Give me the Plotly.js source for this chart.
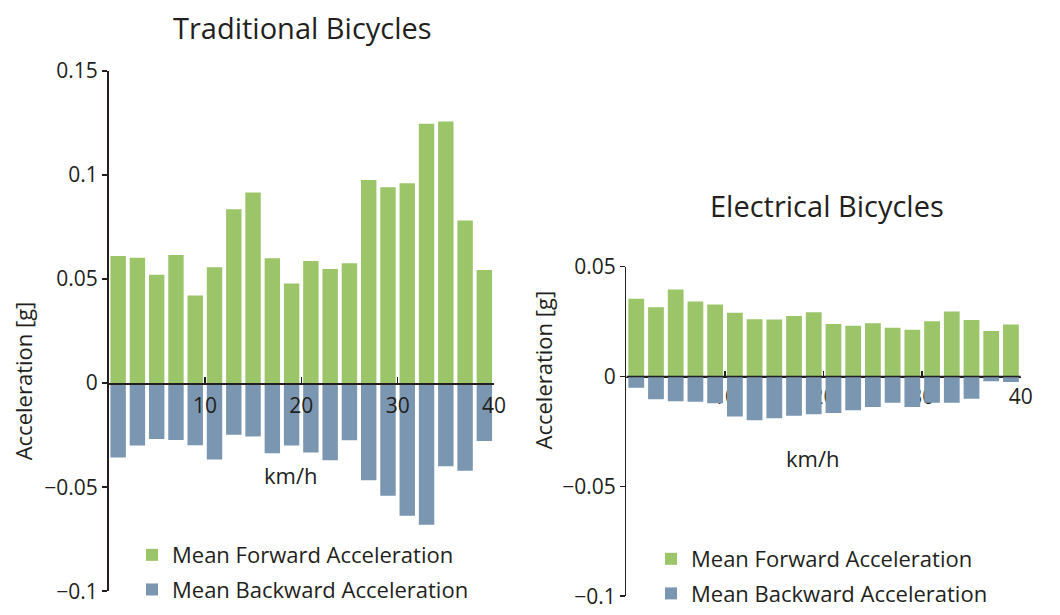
<!DOCTYPE html>
<html><head><meta charset="utf-8">
<script src="https://cdn.plot.ly/plotly-3.0.1.min.js"></script>
<style>html,body{margin:0;padding:0;background:#fff}</style>
</head><body>
<div id="chart" style="width:1060px;height:615px"></div>
<script>
// ---- data ----
const speedBins = [1,3,5,7,9,11,13,15,17,19,21,23,25,27,29,31,33,35,37,39];
const tradForward = [0.0611,0.0602,0.0521,0.0616,0.0421,0.0557,0.0835,0.0916,0.0600,0.0479,
                     0.0587,0.0548,0.0576,0.0976,0.0941,0.0960,0.1246,0.1257,0.0781,0.0544];
const tradBackward = [-0.0357,-0.0300,-0.0268,-0.0273,-0.0298,-0.0367,-0.0248,-0.0256,-0.0337,-0.0300,
                      -0.0333,-0.0371,-0.0275,-0.0467,-0.0541,-0.0637,-0.0681,-0.0400,-0.0421,-0.0278];
const elecForward = [0.0354,0.0316,0.0396,0.0342,0.0328,0.0290,0.0261,0.0260,0.0276,0.0293,
                     0.0239,0.0231,0.0243,0.0222,0.0213,0.0252,0.0296,0.0257,0.0207,0.0237];
const elecBackward = [-0.0051,-0.0103,-0.0112,-0.0115,-0.0122,-0.0182,-0.0199,-0.0190,-0.0179,-0.0172,
                      -0.0166,-0.0154,-0.0139,-0.0119,-0.0139,-0.0119,-0.0119,-0.0101,-0.0022,-0.0025];
const xTickVals = [10,20,30,40];
const seriesNames = ['Mean Forward Acceleration','Mean Backward Acceleration'];
const panelTitles = ['Traditional Bicycles','Electrical Bicycles'];
const yTitle = 'Acceleration [g]';
const xTitle = 'km/h';

// ---- layout helpers ----
const W = 1060, H = 615;
const px = v => v / W;
const py = v => 1 - v / H;
const GREEN = '#9cc56a', BLUE = '#7a96b0', INK = '#231f20';
const FONT = 'Open Sans, Noto Sans, sans-serif';

const yr1 = [-0.1, 0.15], yd1 = [py(600), py(72)];
const yr2 = [-0.1, 0.05], yd2 = [py(605), py(270.7)];
const zeroPos = (r, d) => d[0] + (0 - r[0]) / (r[1] - r[0]) * (d[1] - d[0]);

function barTrace(x, y, name, color, xa, ya, legend, group) {
  return {type:'bar', x:x, y:y, name:name, xaxis:xa, yaxis:ya, legend:legend,
          legendgroup:group, marker:{color:color, line:{width:0}}, hoverinfo:'x+y'};
}

const data = [
  barTrace(speedBins, tradForward, seriesNames[0], GREEN, 'x', 'y', 'legend', 'a'),
  barTrace(speedBins, tradBackward, seriesNames[1], BLUE, 'x', 'y', 'legend', 'b'),
  barTrace(speedBins, elecForward, seriesNames[0], GREEN, 'x2', 'y2', 'legend2', 'c'),
  barTrace(speedBins, elecBackward, seriesNames[1], BLUE, 'x2', 'y2', 'legend2', 'd')
];

const axisCommon = {showgrid:false, zeroline:false, showline:true, linecolor:INK, linewidth:1.5,
                    tickcolor:INK, tickwidth:1.5, tickfont:{size:21, color:INK, family:FONT}};

const legendCommon = {xanchor:'left', yanchor:'top', bgcolor:'rgba(0,0,0,0)', borderwidth:0,
                      traceorder:'grouped', tracegroupgap:3, font:{size:22, color:INK, family:FONT}};

const layout = {
  width:W, height:H, margin:{l:0, r:0, t:0, b:0},
  paper_bgcolor:'#ffffff', plot_bgcolor:'rgba(0,0,0,0)',
  font:{family:FONT, color:INK},
  barmode:'relative', bargap:0.2,
  showlegend:true,
  xaxis: Object.assign({}, axisCommon, {domain:[px(108.5), px(494)], range:[0,40], anchor:'free',
          position: zeroPos(yr1, yd1), ticks:'inside', ticklen:6, tickvals:xTickVals, ticklabelstandoff:3}),
  yaxis: Object.assign({}, axisCommon, {domain:yd1, range:yr1, anchor:'x', ticks:'outside', ticklen:5,
          tick0:0, dtick:0.05}),
  xaxis2: Object.assign({}, axisCommon, {domain:[px(626.4), px(1020.8)], range:[0,40], anchor:'free',
          position: zeroPos(yr2, yd2), ticks:'inside', ticklen:6, tickvals:xTickVals, ticklabelstandoff:1,
          layer:'below traces'}),
  yaxis2: Object.assign({}, axisCommon, {domain:yd2, range:yr2, anchor:'x2', ticks:'outside', ticklen:5,
          tick0:0, dtick:0.05}),
  legend: Object.assign({}, legendCommon, {x:px(132), y:py(542)}),
  legend2: Object.assign({}, legendCommon, {x:px(651), y:py(546)}),
  shapes: [
    {type:'line', xref:'x2', yref:'y2', x0:0, x1:40, y0:0, y1:0, layer:'above',
     line:{color:INK, width:1.5}}
  ],
  annotations: [
    {text:panelTitles[0], xref:'paper', yref:'paper', x:px(302.5), y:py(28), xanchor:'center', yanchor:'middle',
     showarrow:false, font:{size:29, color:INK, family:FONT}},
    {text:panelTitles[1], xref:'paper', yref:'paper', x:px(826.5), y:py(209), xanchor:'center', yanchor:'middle',
     showarrow:false, font:{size:29, color:INK, family:FONT}},
    {text:yTitle, xref:'paper', yref:'paper', x:px(23), y:py(387), xanchor:'center', yanchor:'middle',
     textangle:-90, showarrow:false, font:{size:22, color:INK, family:FONT}},
    {text:yTitle, xref:'paper', yref:'paper', x:px(543), y:py(376), xanchor:'center', yanchor:'middle',
     textangle:-90, showarrow:false, font:{size:22, color:INK, family:FONT}},
    {text:xTitle, xref:'paper', yref:'paper', x:px(291), y:py(482), xanchor:'center', yanchor:'middle',
     showarrow:false, font:{size:22, color:INK, family:FONT}},
    {text:xTitle, xref:'paper', yref:'paper', x:px(813), y:py(465), xanchor:'center', yanchor:'middle',
     showarrow:false, font:{size:22, color:INK, family:FONT}}
  ]
};

Plotly.newPlot('chart', data, layout, {displayModeBar:false, staticPlot:true});
</script>
</body></html>
